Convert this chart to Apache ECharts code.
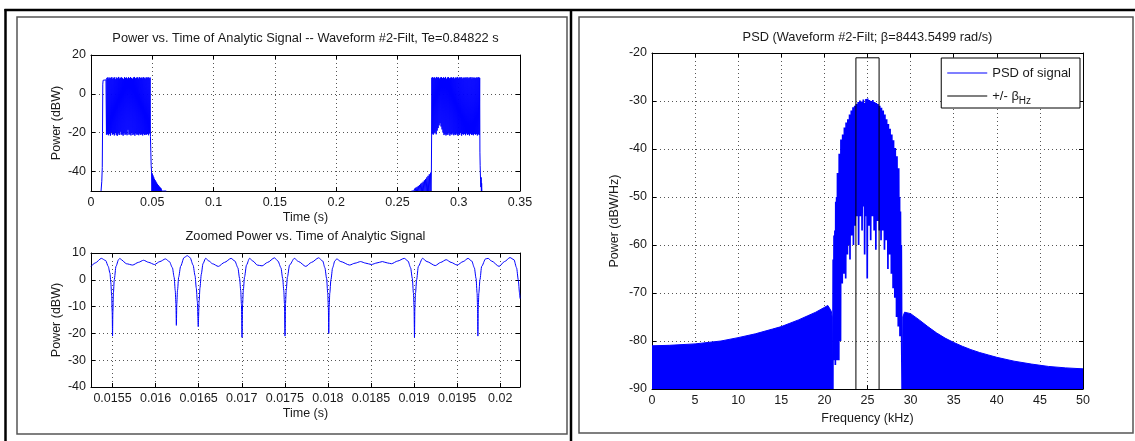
<!DOCTYPE html>
<html><head><meta charset="utf-8">
<script src="https://cdn.jsdelivr.net/npm/echarts@6/dist/echarts.min.js"></script>
<style>html,body{margin:0;padding:0;background:#fff}#c{width:1135px;height:441px}</style>
</head><body><div id="c"></div><script>
// ---------- DATA ----------
const topTitle = 'Power vs. Time of Analytic Signal -- Waveform #2-Filt, Te=0.84822 s';
const zoomTitle = 'Zoomed Power vs. Time of Analytic Signal';
const psdTitle = 'PSD (Waveform #2-Filt; \u03b2=8443.5499 rad/s)';

const topTicksY = [-40, -20, 0, 20];
const zoomTicksX = [0.0155, 0.016, 0.0165, 0.017, 0.0175, 0.018, 0.0185, 0.019, 0.0195, 0.02];

// Top panel: first burst (time s, power dBW)
const burst1 = [
[0.0082,-50],[0.0088,-45],[0.0092,-38],[0.0094,-20],[0.0096,5],[0.0099,7],[0.0122,7.2],
[0.0126,-21],[0.0130,8.2],[0.0134,-20.8],[0.0138,8.5],[0.0142,-21.3],[0.0146,7.9],[0.0150,-20.6],[0.0154,8.4],
[0.0158,-21.5],[0.0162,8.1],[0.0166,-19.8],[0.0170,8.6],[0.0174,-21.0],[0.0178,7.8],[0.0182,-20.7],[0.0186,8.3],
[0.0190,-21.4],[0.0194,8.5],[0.0198,-20.2],[0.0202,7.6],[0.0206,-21.1],[0.0210,8.4],[0.0214,-21.6],[0.0218,8.0],
[0.0222,-20.4],[0.0226,8.7],[0.0230,-21.2],[0.0234,7.9],[0.0238,-19.5],[0.0242,8.3],[0.0246,-21.0],[0.0250,8.5],
[0.0254,-20.9],[0.0258,8.1],[0.0262,-21.5],[0.0266,7.7],[0.0270,-20.3],[0.0274,8.6],[0.0278,-21.1],[0.0282,8.2],
[0.0286,-20.6],[0.0290,8.4],[0.0294,-21.3],[0.0298,7.9],[0.0302,-18.5],[0.0306,8.5],[0.0310,-21.0],[0.0314,8.0],
[0.0318,-20.8],[0.0322,8.6],[0.0326,-21.4],[0.0330,8.2],[0.0334,-20.1],[0.0338,7.8],[0.0342,-21.2],[0.0346,8.4],
[0.0350,-20.7],[0.0354,8.7],[0.0358,-21.5],[0.0362,8.0],[0.0366,-20.4],[0.0370,8.3],[0.0374,-21.0],[0.0378,8.5],
[0.0382,-20.9],[0.0386,7.9],[0.0390,-21.3],[0.0394,8.6],[0.0398,-20.5],[0.0402,8.2],[0.0406,-21.1],[0.0410,8.4],
[0.0414,-20.8],[0.0418,8.0],[0.0422,-21.4],[0.0426,8.6],[0.0430,-20.6],[0.0434,8.3],[0.0438,-21.2],[0.0442,7.9],
[0.0446,-20.9],[0.0450,8.5],[0.0454,-21.0],[0.0458,8.2],[0.0462,-20.7],[0.0466,8.6],[0.0470,-21.3],[0.0474,8.1],
[0.0478,-20.4],[0.0482,8.4],[0.0485,-22],
[0.0488,-30],[0.0491,-37],[0.0494,-40],[0.0497,-50],[0.0500,-41],[0.0503,-50],[0.0506,-42],[0.0509,-50],
[0.0512,-43],[0.0515,-50],[0.0518,-43.8],[0.0521,-50],[0.0524,-44.5],[0.0527,-50],[0.0530,-45.2],[0.0533,-50],
[0.0536,-45.8],[0.0539,-50],[0.0542,-46.4],[0.0545,-50],[0.0548,-46.9],[0.0551,-50],[0.0554,-47.4],[0.0557,-50],
[0.0560,-47.9],[0.0563,-50],[0.0566,-48.3],[0.0569,-50],[0.0572,-48.7],[0.0575,-50],[0.0578,-49.0],[0.0581,-50],
[0.0584,-49.3],[0.0587,-50],[0.0590,-49.6],[0.0593,-50],[0.0597,-49.8],[0.0602,-50],[0.0608,-49.95],[0.0614,-50]
];

// Top panel: second burst
const burst2 = [
[0.2615,-50],[0.2620,-49.7],[0.2625,-50],[0.2630,-49.2],[0.2635,-50],[0.2640,-48.8],[0.2645,-50],[0.2650,-48.3],
[0.2655,-50],[0.2660,-47.9],[0.2665,-50],[0.2670,-47.4],[0.2675,-50],[0.2680,-46.9],[0.2685,-50],[0.2690,-46.3],
[0.2695,-50],[0.2700,-45.8],[0.2705,-50],[0.2710,-45.2],[0.2715,-50],[0.2720,-44.5],[0.2725,-50],[0.2730,-43.8],
[0.2735,-50],[0.2740,-43.0],[0.2745,-50],[0.2750,-42.2],[0.2755,-50],[0.2760,-41.4],[0.2765,-50],[0.2770,-40.6],
[0.2774,-50],[0.2777,-40.2],[0.2779,-20],[0.2781,8.3],
[0.2784,-20.5],[0.2788,8.6],[0.2792,-21.0],[0.2796,8.2],[0.2800,-20.3],[0.2804,8.5],[0.2808,-19.6],[0.2812,8.0],
[0.2816,-20.8],[0.2820,8.7],[0.2824,-18.9],[0.2828,8.3],[0.2832,-17.6],[0.2836,8.5],[0.2840,-16.2],[0.2844,7.9],
[0.2848,-15.1],[0.2852,8.4],[0.2856,-16.8],[0.2860,8.6],[0.2864,-18.3],[0.2868,8.1],[0.2872,-19.9],[0.2876,8.5],
[0.2880,-21.2],[0.2884,8.2],[0.2888,-20.6],[0.2892,8.7],[0.2896,-21.4],[0.2900,7.8],[0.2904,-20.9],[0.2908,8.4],
[0.2912,-21.1],[0.2916,8.6],[0.2920,-20.3],[0.2924,8.0],[0.2928,-21.5],[0.2932,8.3],[0.2936,-20.7],[0.2940,8.5],
[0.2944,-21.0],[0.2948,8.1],[0.2952,-20.4],[0.2956,8.6],[0.2960,-21.3],[0.2964,7.9],[0.2968,-20.8],[0.2972,8.4],
[0.2976,-21.2],[0.2980,8.2],[0.2984,-20.5],[0.2988,8.7],[0.2992,-21.4],[0.2996,8.0],[0.3000,-20.9],[0.3004,8.5],
[0.3008,-21.1],[0.3012,8.3],[0.3016,-20.2],[0.3020,8.6],[0.3024,-21.5],[0.3028,7.9],[0.3032,-20.7],[0.3036,8.4],
[0.3040,-21.0],[0.3044,8.2],[0.3048,-20.6],[0.3052,8.5],[0.3056,-21.3],[0.3060,8.1],[0.3064,-20.4],[0.3068,8.6],
[0.3072,-21.2],[0.3076,8.0],[0.3080,-20.8],[0.3084,8.4],[0.3088,-21.4],[0.3092,8.3],[0.3096,-20.5],[0.3100,8.6],
[0.3104,-21.1],[0.3108,7.9],[0.3112,-20.9],[0.3116,8.5],[0.3120,-21.3],[0.3124,8.2],[0.3128,-20.6],[0.3132,8.4],
[0.3136,-21.0],[0.3140,8.1],[0.3144,-20.7],[0.3148,8.5],[0.3152,-21.4],[0.3156,8.3],[0.3160,-20.8],[0.3164,8.6],
[0.3168,-21.2],[0.3171,8.2],[0.3173,-30],[0.3175,-37],[0.3178,-44],[0.3181,-48],[0.3183,-43],[0.3185,-50],
[0.3187,-46],[0.3189,-50]
];

// Bottom panel: zoomed power (time s, power dBW)
const zoomWave = [
[0.01525,5.0],[0.01530,6.3],[0.01537,8.0],[0.01542,7.2],[0.01545,5.0],[0.01547,2.5],[0.01548,-1],[0.015490,-6],
[0.015496,-12],[0.01550,-21],[0.015504,-12],[0.01551,-5],[0.01552,0],[0.01554,5],[0.01557,7.5],[0.015585,8.0],
[0.01561,7.3],[0.01566,6.0],[0.015733,5.5],[0.0158,6.5],[0.01586,7.3],[0.01592,6.5],[0.015987,5.7],[0.01605,6.8],
[0.016114,7.8],[0.01616,6.8],[0.016195,4.5],[0.016215,1],[0.016228,-4],[0.016236,-9],[0.016241,-17],[0.016246,-9],
[0.016254,-4],[0.016268,1],[0.01629,5],[0.01633,8.3],[0.016368,9.0],[0.0164,8.3],[0.016435,5.5],[0.016458,1.5],
[0.016472,-3],[0.016484,-8],[0.016495,-17.5],[0.016505,-8],[0.016515,-3],[0.01653,2],[0.01655,6],[0.01658,8.0],
[0.01662,7.0],[0.01666,6.0],[0.016728,5.0],[0.0168,6.5],[0.016876,8.0],[0.01692,7.0],[0.016955,4.5],[0.016975,0.5],
[0.016988,-4],[0.016996,-9],[0.017003,-21.5],[0.01701,-9],[0.017018,-4],[0.017032,1],[0.017055,5.5],[0.01709,8.0],
[0.01713,7.0],[0.01718,5.5],[0.017236,5.2],[0.0173,6.5],[0.01738,8.2],[0.01742,7.0],[0.017455,4.5],[0.017475,0.5],
[0.017488,-4],[0.017496,-9],[0.017502,-21],[0.017508,-9],[0.017516,-4],[0.01753,1],[0.017555,5.5],[0.01761,8.0],
[0.01766,6.8],[0.017743,5.0],[0.01781,6.5],[0.017892,8.2],[0.01794,7.0],[0.017965,4.5],[0.017985,0.5],[0.017998,-5],
[0.018005,-10],[0.01801,-20],[0.018015,-10],[0.018022,-5],[0.018035,0],[0.018055,4.5],[0.01808,7.0],[0.018103,7.8],
[0.01815,6.8],[0.018252,5.5],[0.018315,6.2],[0.018379,6.8],[0.01844,6.2],[0.018505,5.7],[0.01857,6.3],[0.018632,6.8],
[0.01869,6.3],[0.018738,6.0],[0.01881,7.0],[0.018887,8.0],[0.01893,7.0],[0.01896,4.5],[0.01898,0.5],[0.018993,-5],
[0.019,-10],[0.019005,-21.5],[0.01901,-10],[0.019017,-5],[0.01903,0],[0.01905,5],[0.019098,8.0],[0.01915,6.8],
[0.019246,5.3],[0.01931,6.5],[0.019373,7.5],[0.01943,6.5],[0.0195,5.5],[0.01957,6.8],[0.019627,8.0],[0.01967,7.0],
[0.0197,4.5],[0.01972,0.5],[0.019732,-5],[0.019737,-10],[0.019741,-21],[0.019746,-10],[0.019752,-5],[0.019765,0],
[0.019785,5],[0.01983,7.8],[0.01986,8.0],[0.0199,7.0],[0.019987,5.0],[0.02005,6.8],[0.020114,8.3],[0.02016,7.5],
[0.02019,4.5],[0.02021,0],[0.020225,-5],[0.02023,-7]
];

// Right panel: PSD (frequency kHz, dBW/Hz)
const psdLeftShoulder = [
[0,-81],[2,-80.9],[5,-80.6],[8,-80],[10,-79.3],[12,-78.5],[14,-77.5],[15,-77],[16,-76.3],[17,-75.6],[18,-74.8],
[19,-74],[19.5,-73.5],[20,-73],[20.4,-72.6],[20.6,-72.7],[20.8,-73.8],[20.9,-75],[20.95,-90]
];
const psdRightShoulder = [
[29.05,-90],[29.1,-75],[29.3,-74],[29.5,-73.8],[30,-74.3],[31,-75.6],[32,-77],[33,-78.3],[34,-79.4],[35,-80.3],
[36,-81.1],[37,-81.8],[38,-82.4],[39,-82.9],[40,-83.4],[42,-84.2],[44,-84.8],[46,-85.3],[48,-85.6],[50,-85.8]
];
const psdMainLobe = [
[20.98,-90],[21.02,-63],[21.07,-84],[21.12,-58],[21.17,-80],[21.22,-57],[21.27,-85],[21.32,-51],[21.37,-78],[21.42,-50],
[21.47,-84],[21.52,-45],[21.57,-72],[21.62,-45],[21.67,-84],[21.72,-41],[21.77,-70],[21.82,-41.5],[21.87,-80],[21.92,-38],
[21.97,-64],[22.02,-39.5],[22.07,-68],[22.12,-37],[22.17,-60],[22.22,-38.5],[22.27,-66],[22.32,-35.5],[22.37,-58],[22.42,-37],
[22.47,-67],[22.52,-34.5],[22.57,-56],[22.62,-36],[22.67,-62],[22.72,-33.8],[22.77,-54],[22.82,-35],[22.87,-60],[22.92,-32.8],
[22.97,-63],[23.02,-34],[23.07,-52],[23.12,-32],[23.17,-58],[23.22,-33.5],[23.27,-50],[23.32,-31.3],[23.37,-60],[23.42,-32.8],
[23.47,-49],[23.52,-31],[23.57,-56],[23.62,-32.5],[23.67,-48],[23.72,-30.6],[23.77,-54],[23.82,-32],[23.87,-50],[23.92,-30.2],
[23.97,-60],[24.02,-31.6],[24.07,-47],[24.12,-29.9],[24.17,-54],[24.22,-31.4],[24.27,-49],[24.32,-30.1],[24.37,-57],[24.42,-31.8],
[24.47,-46],[24.52,-29.7],[24.57,-52],[24.62,-31.2],[24.67,-62],[24.72,-30.4],[24.77,-48],[24.82,-29.6],[24.87,-54],[24.92,-31.5],
[24.97,-67],[25.02,-29.5],[25.07,-49],[25.12,-31],[25.17,-56],[25.22,-29.8],[25.27,-47],[25.32,-31.6],[25.37,-59],[25.42,-30],
[25.47,-49],[25.52,-31.3],[25.57,-54],[25.62,-29.8],[25.67,-47],[25.72,-31.5],[25.77,-57],[25.82,-30.2],[25.87,-49],[25.92,-31.8],
[25.97,-61],[26.02,-30.4],[26.07,-50],[26.12,-32],[26.17,-55],[26.22,-30.6],[26.27,-48],[26.32,-32.4],[26.37,-57],[26.42,-31],
[26.47,-50],[26.52,-32.8],[26.57,-59],[26.62,-31.4],[26.67,-51],[26.72,-33.4],[26.77,-57],[26.82,-32],[26.87,-52],[26.92,-34],
[26.97,-61],[27.02,-32.8],[27.07,-53],[27.12,-35],[27.17,-59],[27.22,-33.8],[27.27,-54],[27.32,-36],[27.37,-65],[27.42,-34.8],
[27.47,-56],[27.52,-37],[27.57,-62],[27.62,-35.8],[27.67,-58],[27.72,-38],[27.77,-66],[27.82,-37],[27.87,-60],[27.92,-39.5],
[27.97,-69],[28.02,-38.2],[28.07,-62],[28.12,-41],[28.17,-71],[28.22,-39.8],[28.27,-66],[28.32,-43],[28.37,-75],[28.42,-41.5],
[28.47,-70],[28.52,-45.5],[28.57,-77],[28.62,-44],[28.67,-73],[28.72,-50],[28.77,-79],[28.82,-53],[28.87,-76],[28.92,-60],
[28.97,-81],[29.02,-90]
];
// +/- beta_Hz box (25 kHz +/- 1.344 kHz)
const betaBox = [[23.656,-90],[23.656,-21],[26.344,-21],[26.344,-90]];

const psdName = 'PSD of signal';
const betaName = '+/- \u03b2Hz';

// ---------- CHART ----------
const FONT = '"Liberation Sans", Arial, Helvetica, sans-serif';
const BLUE = '#0000ff';
const LABEL_COLOR = '#1a1a1a';

function mainX(gridIndex, opts, name, nameGap) {
  return Object.assign({
    type: 'value', gridIndex, position: 'bottom',
    name, nameLocation: 'middle', nameGap,
    nameTextStyle: { fontFamily: FONT, fontSize: 12.5, color: LABEL_COLOR },
    axisLine: { show: true, onZero: false, lineStyle: { color: '#000', width: 1 } },
    axisTick: { show: true, inside: true, length: 4, lineStyle: { color: '#000' } },
    axisLabel: { fontFamily: FONT, fontSize: 12.5, color: LABEL_COLOR, margin: 5, hideOverlap: false,
                 showMinLabel: true, showMaxLabel: true },
    splitLine: { show: true, lineStyle: { color: '#555', type: [1, 3], width: 1 } }
  }, opts);
}
function mirrorX(gridIndex, opts) {
  return Object.assign({
    type: 'value', gridIndex, position: 'top',
    axisLine: { show: true, onZero: false, lineStyle: { color: '#000', width: 1 } },
    axisTick: { show: true, inside: true, length: 4, lineStyle: { color: '#000' } },
    axisLabel: { show: false }, splitLine: { show: false }
  }, opts);
}
function mainY(gridIndex, opts, name, nameGap) {
  return Object.assign({
    type: 'value', gridIndex, position: 'left',
    name, nameLocation: 'middle', nameGap, nameRotate: 90,
    nameTextStyle: { fontFamily: FONT, fontSize: 12.5, color: LABEL_COLOR },
    axisLine: { show: true, onZero: false, lineStyle: { color: '#000', width: 1 } },
    axisTick: { show: true, inside: true, length: 4, lineStyle: { color: '#000' } },
    axisLabel: { fontFamily: FONT, fontSize: 12.5, color: LABEL_COLOR, margin: 5,
                 showMinLabel: true, showMaxLabel: true },
    splitLine: { show: true, lineStyle: { color: '#555', type: [1, 3], width: 1 } }
  }, opts);
}
function mirrorY(gridIndex, opts) {
  return Object.assign({
    type: 'value', gridIndex, position: 'right',
    axisLine: { show: true, onZero: false, lineStyle: { color: '#000', width: 1 } },
    axisTick: { show: true, inside: true, length: 4, lineStyle: { color: '#000' } },
    axisLabel: { show: false }, splitLine: { show: false }
  }, opts);
}

const zoomLabelCfg = { customValues: zoomTicksX, formatter: v => String(v) };
const topYLabelCfg = { customValues: topTicksY };

const xAxes = [
  mainX(0, { min: 0, max: 0.35, interval: 0.05 }, 'Time (s)', 20),
  mirrorX(0, { min: 0, max: 0.35, interval: 0.05 }),
  mainX(1, { min: 0.01525, max: 0.02023 }, 'Time (s)', 20),
  mirrorX(1, { min: 0.01525, max: 0.02023 }),
  mainX(2, { min: 0, max: 50, interval: 5 }, 'Frequency (kHz)', 19),
  mirrorX(2, { min: 0, max: 50, interval: 5 })
];
xAxes[2].axisLabel = Object.assign({}, xAxes[2].axisLabel, zoomLabelCfg);
xAxes[2].axisTick = Object.assign({}, xAxes[2].axisTick, { customValues: zoomTicksX });
xAxes[3].axisTick = Object.assign({}, xAxes[3].axisTick, { customValues: zoomTicksX });

const yAxes = [
  mainY(0, { min: -50, max: 20 }, 'Power (dBW)', 28),
  mirrorY(0, { min: -50, max: 20 }),
  mainY(1, { min: -40, max: 10, interval: 10 }, 'Power (dBW)', 28),
  mirrorY(1, { min: -40, max: 10, interval: 10 }),
  mainY(2, { min: -90, max: -20, interval: 10 }, 'Power (dBW/Hz)', 31),
  mirrorY(2, { min: -90, max: -20, interval: 10 })
];
yAxes[0].axisLabel = Object.assign({}, yAxes[0].axisLabel, topYLabelCfg);
yAxes[0].axisTick = Object.assign({}, yAxes[0].axisTick, { customValues: topTicksY });
yAxes[1].axisTick = Object.assign({}, yAxes[1].axisTick, { customValues: topTicksY });

function lineSeries(name, data, xi, yi, color, extra) {
  return Object.assign({
    name, type: 'line', data, xAxisIndex: xi, yAxisIndex: yi,
    showSymbol: false, symbol: 'none', clip: true, animation: false,
    lineStyle: { color, width: 1 }, itemStyle: { color }, emphasis: { disabled: true }
  }, extra || {});
}

const titleStyle = { fontFamily: FONT, fontSize: 12.8, fontWeight: 'normal', color: LABEL_COLOR };

const option = {
  backgroundColor: '#fff',
  animation: false,
  title: [
    { text: topTitle, left: 305.5, top: 32, textAlign: 'center', textStyle: titleStyle, padding: 0 },
    { text: zoomTitle, left: 305.5, top: 230, textAlign: 'center', textStyle: titleStyle, padding: 0 },
    { text: psdTitle, left: 867.5, top: 31, textAlign: 'center', textStyle: titleStyle, padding: 0 }
  ],
  grid: [
    { left: 91, top: 55, width: 429, height: 136 },
    { left: 91, top: 253, width: 429, height: 134 },
    { left: 652, top: 53, width: 431, height: 336 }
  ],
  xAxis: xAxes,
  yAxis: yAxes,
  legend: {
    data: [{ name: psdName, icon: 'rect' }, { name: betaName, icon: 'rect' }],
    orient: 'vertical', right: 55, top: 58,
    itemWidth: 40, itemHeight: 1, itemGap: 3,
    padding: [5, 9, 2, 6],
    borderColor: '#000', borderWidth: 1, backgroundColor: '#fff',
    selectedMode: false,
    formatter: n => n === betaName ? '+/- \u03b2{s|Hz}' : n,
    textStyle: { fontFamily: FONT, fontSize: 13, color: LABEL_COLOR, lineHeight: 20,
      rich: { s: { fontFamily: FONT, fontSize: 10, color: LABEL_COLOR, verticalAlign: 'bottom', lineHeight: 20 } } }
  },
  series: [
    lineSeries('burst1', burst1, 0, 0, BLUE),
    lineSeries('burst2', burst2, 0, 0, BLUE),
    lineSeries('zoom', zoomWave, 2, 2, BLUE, { smooth: 0.25, smoothMonotone: 'x' }),
    lineSeries(psdName, psdLeftShoulder, 4, 4, BLUE, { areaStyle: { color: BLUE, opacity: 1, origin: 'start' } }),
    lineSeries(psdName, psdRightShoulder, 4, 4, BLUE, { areaStyle: { color: BLUE, opacity: 1, origin: 'start' } }),
    lineSeries(psdName, psdMainLobe, 4, 4, BLUE, { lineStyle: { color: BLUE, width: 1.7 } }),
    lineSeries(betaName, betaBox, 4, 4, '#000', { z: 5 })
  ],
  graphic: [
    { type: 'rect', silent: true, z: -10, shape: { x: 17, y: 17, width: 550, height: 417 },
      style: { fill: 'none', stroke: '#555', lineWidth: 1.5 } },
    { type: 'rect', silent: true, z: -10, shape: { x: 579, y: 17, width: 554, height: 416 },
      style: { fill: 'none', stroke: '#555', lineWidth: 1.5 } },
    { type: 'line', silent: true, shape: { x1: 4.5, y1: 10, x2: 1135, y2: 10 }, style: { stroke: '#000', lineWidth: 2.5 } },
    { type: 'line', silent: true, shape: { x1: 5.5, y1: 9, x2: 5.5, y2: 441 }, style: { stroke: '#000', lineWidth: 2.5 } },
    { type: 'line', silent: true, shape: { x1: 571, y1: 9, x2: 571, y2: 441 }, style: { stroke: '#000', lineWidth: 2.5 } }
  ]
};

const chart = echarts.init(document.getElementById('c'), null, { renderer: 'canvas' });
chart.setOption(option);
</script></body></html>
